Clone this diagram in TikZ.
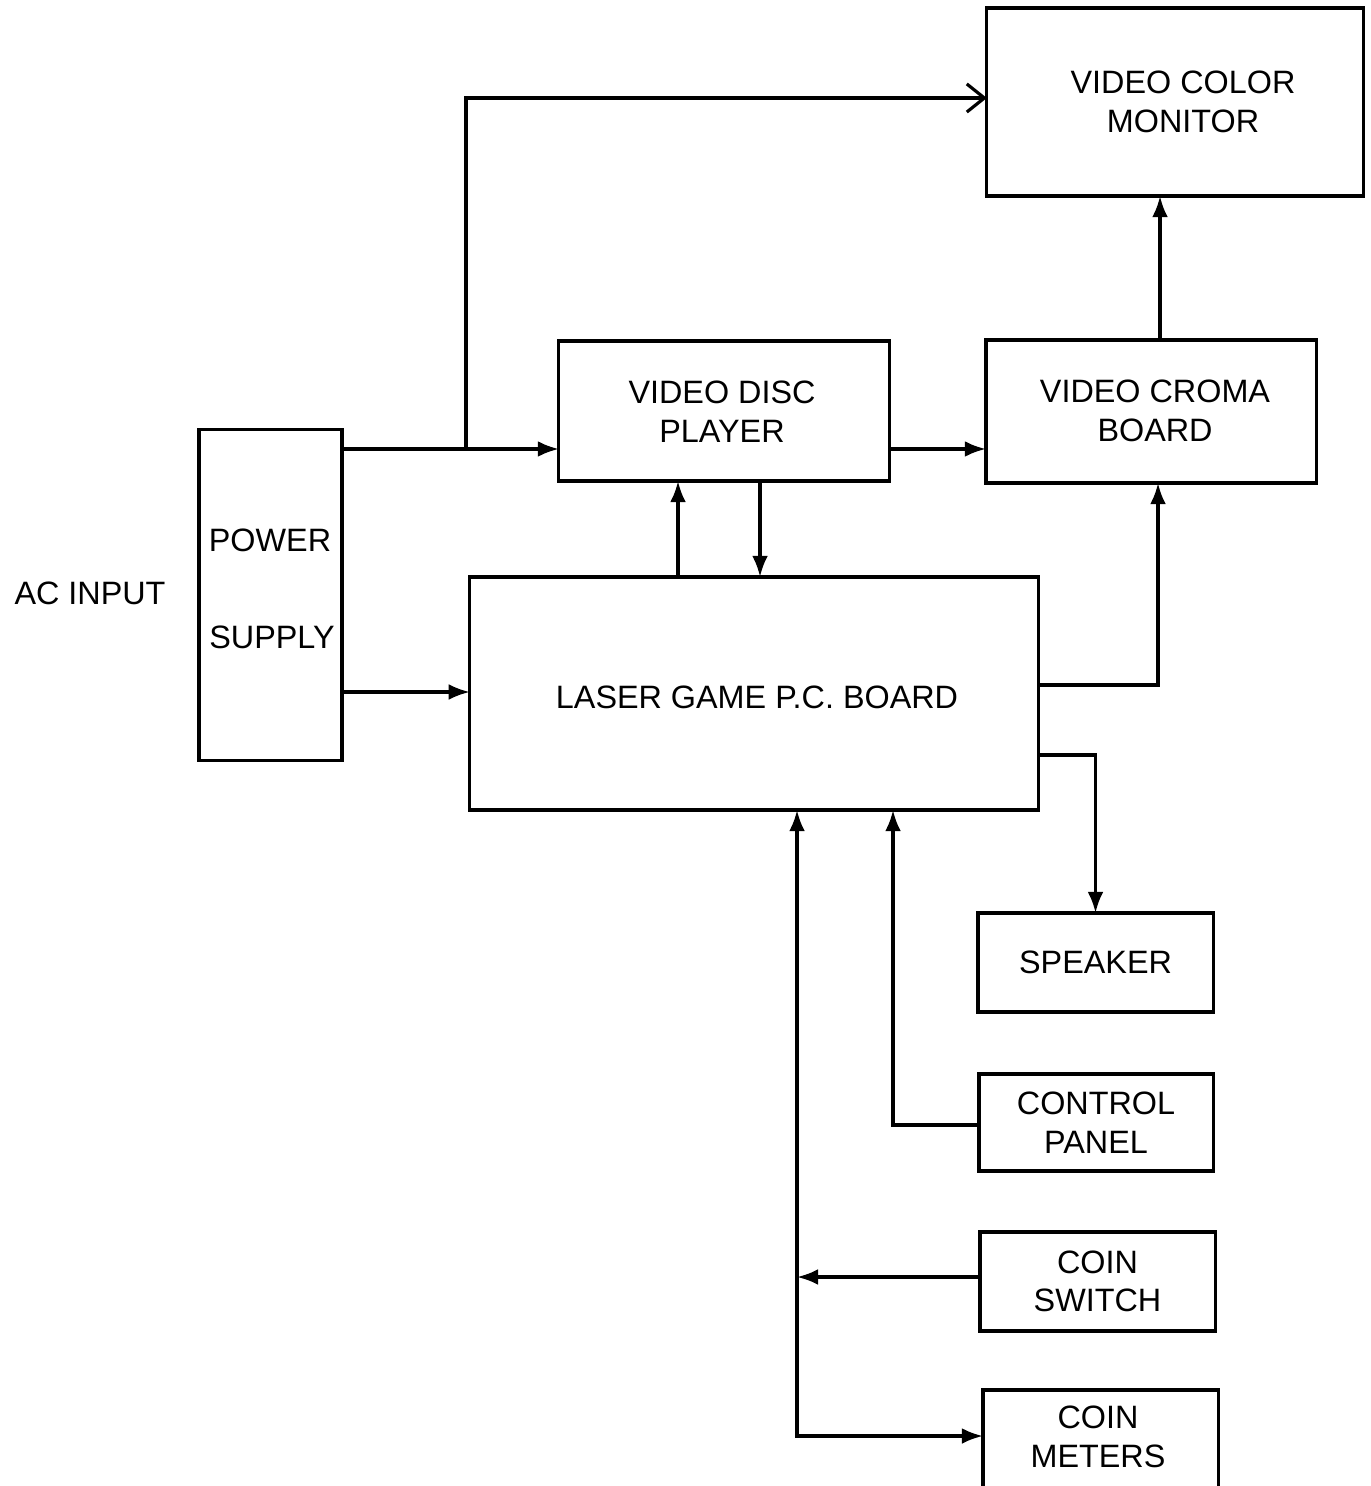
\documentclass[tikz,border=0pt]{standalone}
\usepackage{fontspec}
\setmainfont{Liberation Sans}
\usetikzlibrary{arrows.meta}
\begin{document}
\begin{tikzpicture}[x=0.01cm,y=-0.01cm,
  line width=0.9pt,
  box/.style={draw,rectangle,inner sep=0pt,outer sep=0pt,align=center,
    font=\fontsize{9.2}{11}\selectfont},
  lbl/.style={inner sep=0pt,font=\fontsize{9.2}{11}\selectfont},
  arr/.style={-{Latex[length=6pt,width=4.5pt]}},
  arrboth/.style={{Latex[length=6pt,width=4.5pt]}-{Latex[length=6pt,width=4.5pt]}},
  openarr/.style={-{Straight Barb[length=5pt,width=8pt]}}]
\useasboundingbox (0,0) rectangle (1371,1486);
% boxes
\node[box,minimum width=3.76cm,minimum height=1.88cm] (mon) at (1175,102) {};
\node[lbl,align=center] (monl) at (1183,102) {VIDEO COLOR\\MONITOR};
\node[box,minimum width=3.30cm,minimum height=1.40cm] (vdp) at (724,411) {};
\node[lbl,align=center] (vdpl) at (722,412) {VIDEO DISC\\PLAYER};
\node[box,minimum width=3.30cm,minimum height=1.43cm] (crb) at (1151,411.5) {};
\node[lbl,align=center] (crbl) at (1155,411) {VIDEO CROMA\\BOARD};
\node[box,minimum width=1.43cm,minimum height=3.30cm] (ps) at (270.5,595) {};
\node[lbl] (psl1) at (270,540) {POWER};
\node[lbl] (psl2) at (272,637) {SUPPLY};
\node[box,minimum width=5.68cm,minimum height=2.33cm] (lgb) at (754,693.5) {};
\node[lbl] (lgbl) at (757,697) {LASER GAME P.C. BOARD};
\node[box,minimum width=2.35cm,minimum height=0.99cm] (spk) at (1095.5,962.5) {SPEAKER};
\node[box,minimum width=2.34cm,minimum height=0.97cm] (ctl) at (1096,1122.5) {CONTROL\\PANEL};
\node[box,minimum width=2.35cm,minimum height=0.99cm] (csw) at (1097.5,1281.5) {COIN\\SWITCH};
\node[box,minimum width=2.35cm,minimum height=1.04cm] (met) at (1100.5,1442) {};
\node[lbl,align=center] (metl) at (1098,1437) {COIN\\METERS};
\node[lbl] (ac) at (90,593) {AC INPUT};
% helper coordinates
\coordinate (r449) at (0,449);
\coordinate (r98) at (0,98);
\coordinate (j1) at (466,449);
\coordinate (r685) at (0,685);
\coordinate (r755) at (0,755);
\coordinate (r1125) at (0,1125);
\coordinate (c1160) at (1160,0);
\coordinate (c678) at (678,0);
\coordinate (c760) at (760,0);
\coordinate (c893) at (893,0);
\coordinate (c1158) at (1158,0);
\coordinate (jc) at (797,1277);
\coordinate (jm) at (797,1436);
\coordinate (r692) at (0,692);
% connectors
\draw[arr] (ps.east |- r449) -- (vdp.west |- r449);
\draw[openarr] (j1) -- (j1 |- r98) -- (mon.west |- r98);
\draw[arr] (vdp.east |- r449) -- (crb.west |- r449);
\draw[arr] (crb.north -| c1160) -- (mon.south -| c1160);
\draw[arr] (lgb.north -| c678) -- (vdp.south -| c678);
\draw[arr] (vdp.south -| c760) -- (lgb.north -| c760);
\draw[arr] (lgb.east |- r685) -| (crb.south -| c1158);
\draw[arr] (lgb.east |- r755) -| (spk.north);
\draw[arr] (ctl.west |- r1125) -| (lgb.south -| c893);
\draw[arr] (ps.east |- r692) -- (lgb.west |- r692);
\draw[arr] (csw.west |- jc) -- (jc);
\draw[arrboth] (lgb.south -| jm) -- (jm) -- (met.west |- jm);
\end{tikzpicture}
\end{document}
